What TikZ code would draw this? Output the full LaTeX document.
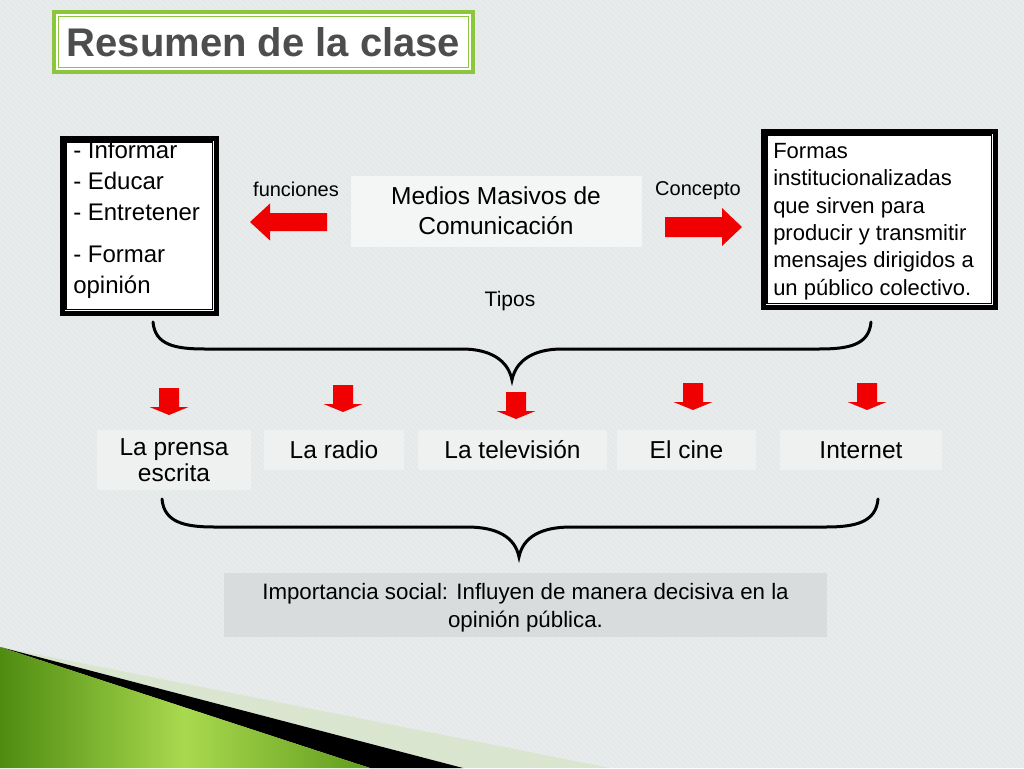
\documentclass[tikz,border=0pt]{standalone}
\usepackage{fontspec}
\setmainfont{Liberation Sans}
\usetikzlibrary{calc}

\definecolor{bgGray}{HTML}{E4E8E9}
\definecolor{titleGreen}{HTML}{8CC63E}
\definecolor{titleGray}{HTML}{4D4D4D}
\definecolor{arrowRed}{HTML}{F00000}
\definecolor{boxLight}{HTML}{F4F5F5}
\definecolor{typeLight}{HTML}{EFF1F1}
\definecolor{noteGray}{HTML}{D9DCDD}
\definecolor{grnDark}{HTML}{4E8C10}
\definecolor{grnLight}{HTML}{A9D94E}
\definecolor{grnPale}{HTML}{D3E3BD}

\begin{document}
\begin{tikzpicture}[x=1pt, y=-1pt]
      \tikzset{titlebox/.style = {draw=titleGreen, line width=4, fill=white,
          minimum width=419, minimum height=60, inner sep=0,
          text=titleGray, font=\fontsize{40}{48}\selectfont\bfseries},
        dblbox/.style   = {draw=black, line width=4.5, fill=white,
          anchor=north west},
        innerframe/.style = {line width=1.2},
        centerbox/.style = {fill=boxLight, minimum width=291, minimum height=71,
          inner sep=0, align=center, font=\fontsize{24.5}{30}\selectfont},
        typebox/.style  = {fill=typeLight, minimum height=40, inner sep=0,
          align=center, font=\fontsize{24.5}{26}\selectfont},
        notebox/.style  = {fill=noteGray, minimum width=603, minimum height=64,
          inner sep=0, align=center, text depth=0pt,
          font=\fontsize{22.3}{28}\selectfont},
        smalllabel/.style = {inner sep=0, font=\fontsize{20}{24}\selectfont},
        brace/.style    = {line width=3, line cap=round},
        leftarr/.pic    = {\fill[arrowRed] (0,-9) -- (-57,-9) -- (-57,-18.5)
          -- (-77,0) -- (-57,18.5) -- (-57,9) -- (0,9) -- cycle;},
        rightarr/.pic   = {\fill[arrowRed] (0,-10) -- (57,-10) -- (57,-19)
          -- (77,0) -- (57,19) -- (57,10) -- (0,10) -- cycle;},
        downarr/.pic    = {\fill[arrowRed] (-10,0) -- (10,0) -- (10,19)
          -- (19.5,19) -- (0,27) -- (-19.5,19) -- (-10,19) -- cycle;}}

      \useasboundingbox (0,0) rectangle (1024,768);
      % background with fine stripes
      \fill[bgGray] (0,0) rectangle (1024,768);
      \begin{scope}
        \clip (0,0) rectangle (1024,768);
        \foreach \i in {-780,-775,...,1030}
          \draw[white, opacity=0.22, line width=1.2] (\i,0) -- (\i+768,768);
        % corner decoration
        \fill[grnPale, opacity=0.6] (0,647) -- (610,768) -- (463,768) -- cycle;
        \fill[black] (0,647) -- (463,768) -- (370,768) -- cycle;
        \shade[left color=grnDark, right color=grnDark!80!grnLight,
          middle color=grnLight] (0,647) -- (370,768) -- (0,768) -- cycle;
      \end{scope}

      % title
      \node[titlebox] (title) at (263.5,42) {Resumen de la clase};
      \draw[titleGreen, line width=1.5] ($(title.north west)+(6.5,6.5)$)
        rectangle ($(title.south east)+(-6.5,-6.5)$);

      % left box: functions
      \node[dblbox, inner xsep=11, inner ysep=3] (func) at (60,136)
        {\parbox[c][169pt][t]{132pt}{\raggedright\fontsize{24}{31}\selectfont
          - Informar\\- Educar\\- Entretener\\[11pt]- Formar\\opinión}};
      \draw[innerframe] ($(func.north west)+(6,6)$)
        rectangle ($(func.south east)+(-6,-6)$);

      % right box: concept
      \node[dblbox, inner xsep=10, inner ysep=12] (conc) at (761,129)
        {\parbox[c][152pt][t]{212pt}{\raggedright\fontsize{22}{27.4}\selectfont
          Formas\\institucionalizadas\\que sirven para\\producir y transmitir\\
          mensajes dirigidos a\\un público colectivo.}};
      \draw[innerframe] ($(conc.north west)+(6,6)$)
        rectangle ($(conc.south east)+(-6,-6)$);

      % center
      \node[centerbox] (mmc) at (496,211) {Medios Masivos de\\Comunicación};
      \node[smalllabel] (lfun) at (296,189) {funciones};
      \node[smalllabel] (lcon) at (698,191) {Concepto};
      \node[smalllabel, font=\fontsize{21}{24}\selectfont] (ltip) at (510,301) {Tipos};
      \pic (afun) at (327,222) {leftarr};
      \pic (acon) at (665,227) {rightarr};

      % upper brace
      \draw[brace] (153,322) .. controls (155,345) and (175,349) .. (205,349)
        -- (462,349) .. controls (490,349) and (508,360) .. (512,380)
        .. controls (516,360) and (534,349) .. (562,349) -- (819,349)
        .. controls (849,349) and (869,345) .. (871,322);

      % types
      \foreach \x/\y in {169/388, 343/385, 516/392, 693/383, 867/383}
        \pic at (\x,\y) {downarr};
      \node[typebox, minimum width=154, minimum height=60] (prensa) at (174,460)
        {La prensa\\escrita};
      \node[typebox, minimum width=140] (radio) at (334,450) {La radio};
      \node[typebox, minimum width=189] (tele) at (512.5,450) {La televisión};
      \node[typebox, minimum width=139] (cine) at (686.5,450) {El cine};
      \node[typebox, minimum width=162] (inet) at (861,450) {Internet};

      % lower brace
      \draw[brace] (162,499) .. controls (164,522) and (184,527) .. (214,527)
        -- (467,527) .. controls (497,527) and (515,537) .. (519,557)
        .. controls (523,537) and (541,527) .. (571,527) -- (826,527)
        .. controls (856,527) and (876,522) .. (878,499);

      \node[notebox] (impo) at (525.5,605)
        {Importancia social: Influyen de manera decisiva en la\\opinión pública.};
\end{tikzpicture}
\end{document}
